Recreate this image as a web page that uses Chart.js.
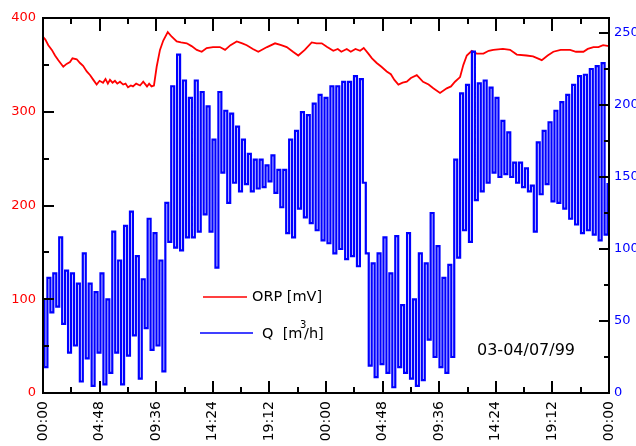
<!DOCTYPE html>
<html>
<head>
    <meta charset="utf-8">
    <title>ORP / Q 03-04/07/99</title>
    <script src="https://cdn.jsdelivr.net/npm/chart.js"></script>
    <style>
        html, body { margin: 0; padding: 0; background: #fff; }
        #wrap { width: 636px; height: 446px; }
    </style>
</head>
<body>
    <div id="wrap">
        <canvas id="myChart"></canvas>
    </div>

    <script>
        // ORP [mV] (left axis), time in hours from 00:00 on the 3rd
        const orpHours = [
            0, 0.2, 0.45, 0.75, 1.02, 1.3, 1.72, 2.0, 2.29, 2.5, 2.86, 3.14, 3.4, 3.71, 4.0, 4.27, 4.55, 4.8,
            5.09, 5.3, 5.5, 5.68, 5.9, 6.1, 6.3, 6.53, 6.8, 7.0, 7.21, 7.45, 7.63, 7.9, 8.23, 8.5, 8.82, 9.0,
            9.2, 9.41, 9.64, 9.92, 10.2, 10.58, 10.92, 11.34, 11.7, 12.19, 12.6, 13.04, 13.46, 13.88, 14.42,
            15.0, 15.44, 15.9, 16.43, 16.9, 17.28, 17.8, 18.26, 19.0, 19.68, 20.2, 20.67, 21.2, 21.65, 22.2,
            22.79, 23.2, 23.64, 24.1, 24.62, 25.0, 25.3, 25.76, 26.1, 26.5, 26.89, 27.2, 27.59, 27.9, 28.3,
            28.7, 29.15, 29.5, 29.8, 30.14, 30.5, 30.85, 31.2, 31.7, 32.23, 32.7, 33.1, 33.67, 34.24, 34.6,
            34.94, 35.37, 35.65, 35.94, 36.36, 36.78, 37.35, 37.8, 38.19, 39.0, 39.61, 40.18, 41.0, 41.56,
            42.3, 42.8, 43.28, 43.9, 44.7, 45.2, 45.83, 46.2, 46.68, 47.1, 47.5, 48
        ];
        const orpValues = [
            380, 377, 371, 366, 360, 355, 348, 351, 353, 357, 356, 352, 349, 343, 339, 334, 329, 333,
            331, 335, 330, 334, 331, 333, 330, 332, 329, 330, 326, 328, 327, 330, 328, 332, 327, 330,
            327, 328, 348, 366, 376, 385, 380, 375, 374, 373, 370, 366, 364, 368, 369,
            369, 366, 371, 375, 373, 371, 367, 364, 369, 373, 371, 369, 364, 360, 366,
            374, 373, 373, 369, 365, 367, 364, 367, 364, 367, 365, 368, 362, 357, 352,
            348, 343, 340, 334, 329, 331, 332, 336, 339, 332, 329, 325, 320, 325, 327,
            332, 337, 350, 360, 365, 362, 362, 365, 366, 367, 366, 361, 360, 359,
            355, 360, 364, 366, 366, 364, 364, 367, 369, 369, 371, 370
        ];

        // Q [m3/h] (right axis), one reading every 15 minutes
        const qStepHours = 0.25;
        const qValues = [
            65, 18, 80, 56, 83, 60, 108, 48, 85, 28, 83, 33, 76, 8, 97, 24,
            76, 5, 70, 28, 83, 6, 65, 14, 112, 28, 92, 6, 116, 26, 126, 40,
            95, 10, 79, 45, 121, 30, 111, 33, 92, 15, 132, 105, 213, 101, 235, 99,
            217, 108, 205, 108, 217, 112, 209, 124, 199, 112, 176, 87, 209, 153, 196, 132,
            194, 146, 185, 140, 176, 145, 166, 140, 162, 142, 162, 143, 158, 147, 165, 139,
            155, 129, 155, 111, 176, 108, 182, 128, 195, 122, 193, 118, 201, 113, 207, 106,
            205, 104, 213, 97, 213, 100, 216, 93, 216, 95, 220, 88, 218, 146, 97, 19,
            90, 11, 97, 20, 108, 14, 83, 4, 109, 18, 61, 14, 111, 10, 65, 5,
            97, 9, 90, 37, 125, 25, 102, 18, 80, 14, 89, 25, 162, 94, 208, 113,
            214, 105, 237, 134, 215, 140, 217, 146, 212, 153, 205, 150, 189, 152, 181, 150,
            160, 146, 160, 143, 156, 140, 144, 112, 174, 138, 182, 145, 188, 133, 196, 132,
            202, 128, 207, 121, 214, 117, 220, 111, 221, 113, 225, 110, 227, 106, 229, 110,
            145
        ];

        // axis ticks
        const hourStep = 2.4;       // minor tick spacing on the time axis
        const hourLabelStep = 4.8;  // labelled ticks
        const orpTickStep = 50;
        const orpLabelStep = 100;
        const qTickStep = 25;
        const qLabelStep = 50;

        const dateText = '03-04/07/99';

        const orpPoints = orpHours.map((h, i) => ({ x: h, y: orpValues[i] }));
        const qPoints = qValues.map((v, i) => ({ x: i * qStepHours, y: v }));

        const isMultiple = (v, step) => Math.abs(v / step - Math.round(v / step)) < 1e-6;

        function hourLabel(value) {
            const mins = Math.round(value * 60) % 1440;
            const hh = String(Math.floor(mins / 60)).padStart(2, '0');
            const mm = String(mins % 60).padStart(2, '0');
            return hh + ':' + mm;
        }

        // frame plus inward tick marks on all four sides
        const frameTicks = {
            id: 'frameTicks',
            afterDatasetsDraw(chart) {
                const { ctx, chartArea: a, scales } = chart;
                const { x, y, y1 } = scales;
                ctx.save();
                ctx.strokeStyle = '#000';
                ctx.lineWidth = 2;
                ctx.beginPath();
                x.ticks.forEach(t => {
                    const px = Math.round(x.getPixelForValue(t.value));
                    const major = isMultiple(t.value, hourLabelStep);
                    ctx.moveTo(px, a.bottom);
                    ctx.lineTo(px, a.bottom - (major ? 12 : 6));
                    ctx.moveTo(px, a.top);
                    ctx.lineTo(px, a.top + (major ? 13 : 6));
                });
                y.ticks.forEach(t => {
                    const py = Math.round(y.getPixelForValue(t.value));
                    const major = isMultiple(t.value, orpLabelStep);
                    ctx.moveTo(a.left, py);
                    ctx.lineTo(a.left + (major ? 11 : 6), py);
                });
                y1.ticks.forEach(t => {
                    const py = Math.round(y1.getPixelForValue(t.value));
                    const major = isMultiple(t.value, qLabelStep);
                    ctx.moveTo(a.right, py);
                    ctx.lineTo(a.right - (major ? 10 : 5), py);
                });
                ctx.stroke();
                ctx.strokeRect(a.left, a.top, a.right - a.left, a.bottom - a.top);
                ctx.restore();
            }
        };

        // legend and date written inside the plot
        const innerNotes = {
            id: 'innerNotes',
            afterDraw(chart) {
                const ctx = chart.ctx;
                ctx.save();
                ctx.lineWidth = 1.5;
                ctx.strokeStyle = '#ff0000';
                ctx.beginPath();
                ctx.moveTo(203, 297);
                ctx.lineTo(247, 297);
                ctx.stroke();
                ctx.strokeStyle = '#0000ff';
                ctx.beginPath();
                ctx.moveTo(200, 333);
                ctx.lineTo(253, 333);
                ctx.stroke();

                ctx.fillStyle = '#000';
                ctx.textBaseline = 'middle';
                ctx.textAlign = 'left';
                ctx.font = '14.5px "DejaVu Sans"';
                ctx.fillText('ORP [mV]', 252, 297);
                ctx.fillText('Q  [m', 262, 334);
                ctx.fillText('/h]', 304, 334);
                ctx.font = '10px "DejaVu Sans"';
                ctx.fillText('3', 300, 325);
                ctx.font = '16px "DejaVu Sans"';
                ctx.fillText(dateText, 477, 351);
                ctx.restore();
            }
        };

        const ctx = document.getElementById('myChart').getContext('2d');
        Chart.defaults.font.family = '"DejaVu Sans", sans-serif';

        const myChart = new Chart(ctx, {
            type: 'line',
            data: {
                datasets: [{
                    label: 'Q [m3/h]',
                    data: qPoints,
                    yAxisID: 'y1',
                    borderColor: '#0000ff',
                    borderWidth: 2.2,
                    stepped: 'middle',
                    pointRadius: 0,
                    fill: false
                }, {
                    label: 'ORP [mV]',
                    data: orpPoints,
                    yAxisID: 'y',
                    borderColor: '#ff0000',
                    borderWidth: 1.8,
                    pointRadius: 0,
                    tension: 0,
                    fill: false
                }]
            },
            options: {
                responsive: true,
                maintainAspectRatio: false,
                animation: false,
                layout: { padding: { top: 18, left: 0, right: 0, bottom: 0 } },
                plugins: {
                    legend: { display: false },
                    tooltip: { enabled: false }
                },
                scales: {
                    x: {
                        type: 'linear',
                        min: 0,
                        max: 48,
                        grid: { display: false, drawTicks: false },
                        border: { display: false },
                        ticks: {
                            stepSize: hourStep,
                            autoSkip: false,
                            minRotation: 90,
                            maxRotation: 90,
                            padding: 8,
                            color: '#000',
                            font: { size: 14 },
                            callback: v => isMultiple(v, hourLabelStep) ? hourLabel(v) : ''
                        },
                        afterFit: s => { s.height = 53; }
                    },
                    y: {
                        position: 'left',
                        min: 0,
                        max: 400,
                        grid: { display: false, drawTicks: false },
                        border: { display: false },
                        ticks: {
                            stepSize: orpTickStep,
                            padding: 7,
                            color: '#ff0000',
                            font: { size: 13 },
                            callback: v => isMultiple(v, orpLabelStep) ? v : ''
                        },
                        afterFit: s => { s.width = 43; }
                    },
                    y1: {
                        position: 'right',
                        min: 0,
                        max: 260.4,
                        grid: { display: false, drawTicks: false },
                        border: { display: false },
                        ticks: {
                            stepSize: qTickStep,
                            includeBounds: false,
                            padding: 5,
                            color: '#0000ff',
                            font: { size: 13 },
                            callback: v => isMultiple(v, qLabelStep) ? v : ''
                        },
                        afterFit: s => { s.width = 27; }
                    }
                }
            },
            plugins: [frameTicks, innerNotes]
        });
    </script>
</body>
</html>
